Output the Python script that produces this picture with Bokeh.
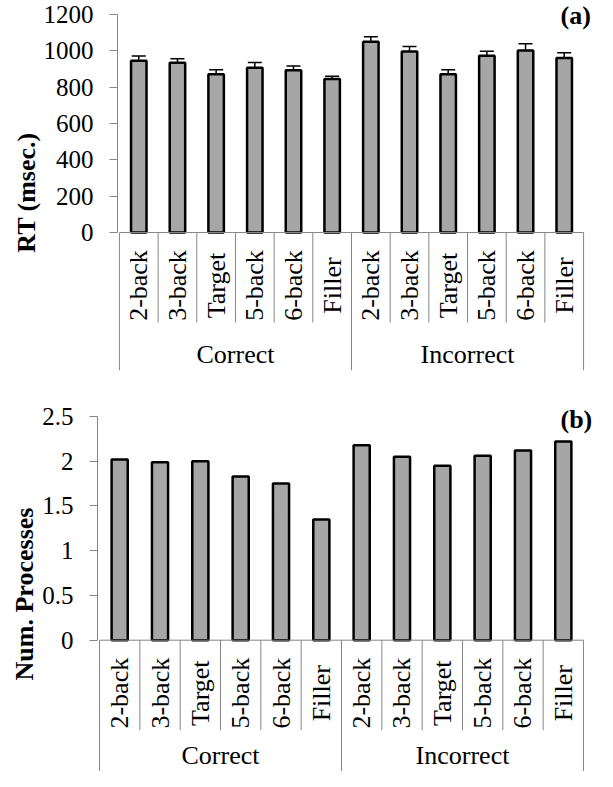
import math
from bokeh.plotting import figure
from bokeh.models import (ColumnDataSource, FactorRange, FixedTicker, Whisker,
                          TeeHead, Range1d, LinearAxis)
from bokeh.layouts import column
from bokeh.core.properties import value
from bokeh.embed import file_html
from bokeh.resources import INLINE

# ---------------- data ----------------
groups = ["Correct", "Incorrect"]
conditions = ["2-back", "3-back", "Target", "5-back", "6-back", "Filler"]
rt_mean = [946, 934, 871, 907, 893, 845, 1050, 996, 871, 973, 1002, 960]
rt_err = [25, 22, 25, 29, 23, 15, 28, 28, 25, 25, 37, 30]
num_proc = [2.02, 1.99, 2.00, 1.83, 1.75, 1.35, 2.18, 2.05, 1.95, 2.06, 2.12, 2.22]
rt_ticks = [0, 200, 400, 600, 800, 1000, 1200]
np_ticks = [0, 0.5, 1, 1.5, 2, 2.5]

# ---------------- style ----------------
FONT = "Liberation Serif"
GRAY = "#868686"
BAR = "#a6a6a6"
W = 597


def make_panel(vals, errs, ticks, ylabel, tag, height, left, top, bottom,
               zero_px, group_px, tag_dy):
    factors = [(g, c) for g in groups for c in conditions]
    right = 12
    frame_h = height - top - bottom
    ymax = ticks[-1]
    d = ymax / zero_px              # data units per pixel
    y_lo = -(frame_h - zero_px) * d

    p = figure(width=W, height=height, output_backend="svg", toolbar_location=None,
               x_range=FactorRange(*factors, factor_padding=0, group_padding=0,
                                   subgroup_padding=0, range_padding=0.05,
                                   range_padding_units="absolute"),
               y_range=Range1d(y_lo, ymax), x_axis_location=None,
               min_border=0, min_border_left=left, min_border_right=right,
               min_border_top=top, min_border_bottom=bottom, frame_align=False)
    p.outline_line_color = None
    p.xgrid.visible = False
    p.ygrid.visible = False

    ax = p.yaxis[0]
    ax.ticker = FixedTicker(ticks=ticks)
    ax.bounds = (0, ymax)
    ax.axis_line_color = GRAY
    ax.major_tick_line_color = GRAY
    ax.major_tick_out = 8
    ax.major_tick_in = 0
    ax.minor_tick_line_color = None
    ax.major_label_standoff = 16
    ax.major_label_text_font = FONT
    ax.major_label_text_font_size = "25px"
    ax.major_label_text_color = "black"
    ax.axis_label = ylabel
    ax.axis_label_text_font = FONT
    ax.axis_label_text_font_size = "26px"
    ax.axis_label_text_font_style = "bold"
    ax.axis_label_text_color = "black"
    ax.axis_label_standoff = 0

    # bars
    src = ColumnDataSource(dict(x=factors, top=vals))
    p.vbar(x="x", top="top", bottom=0, width=0.4, source=src,
           fill_color=BAR, line_color="black", line_width=2.5)

    if errs is not None:
        esrc = ColumnDataSource(dict(x=factors,
                                     upper=[v + e for v, e in zip(vals, errs)],
                                     lower=[v - e for v, e in zip(vals, errs)]))
        p.add_layout(Whisker(source=esrc, base="x", upper="upper", lower="lower",
                             dimension="height", line_color="black", line_width=1.5,
                             upper_head=TeeHead(size=14, line_color="black", line_width=1.5),
                             lower_head=TeeHead(size=14, line_color="black", line_width=1.5)))

    # category table below the axis
    g0, glast = groups[0], groups[-1]
    c0, clast = conditions[0], conditions[-1]
    p.segment(x0=[(g0, c0, -0.5)], y0=[0], x1=[(glast, clast, 0.5)], y1=[0],
              line_color=GRAY, line_width=1)
    inner = [(g, c, -0.5) for g in groups for c in conditions[1:]]
    y_sub_end = -90 * d
    p.segment(x0=inner, y0=[0] * len(inner), x1=inner, y1=[y_sub_end] * len(inner),
              line_color=GRAY, line_width=1)
    outer = [(g0, c0, -0.5)] + [(g, clast, 0.5) for g in groups]
    p.segment(x0=outer, y0=[0] * len(outer), x1=outer, y1=[y_lo] * len(outer),
              line_color=GRAY, line_width=1)

    # condition labels (rotated)
    p.text(x=factors, y=[-53 * d] * len(factors), text=[c for _, c in factors],
           angle=math.pi / 2, text_align="center", text_baseline="middle",
           text_font=value(FONT), text_font_size=value("26px"), text_color="black")
    # group labels
    mid = len(conditions) / 2
    idx = int(mid)
    off = mid - idx - 0.5
    gx = [(g, conditions[idx], off) if off != 0 else (g, conditions[idx]) for g in groups]
    p.text(x=gx, y=[-group_px * d] * len(groups), text=groups,
           text_align="center", text_baseline="middle",
           text_font=value(FONT), text_font_size=value("26px"), text_color="black")

    # panel tag, drawn as the single label of a bare right-hand axis
    p.extra_y_ranges = {"px": Range1d(0, frame_h)}
    tag_pos = frame_h - tag_dy
    tag_axis = LinearAxis(y_range_name="px", ticker=FixedTicker(ticks=[tag_pos]),
                          major_label_overrides={tag_pos: tag},
                          axis_line_color=None, major_tick_line_color=None,
                          minor_tick_line_color=None, major_tick_out=0, major_tick_in=0,
                          major_label_standoff=-25, major_label_text_font=FONT,
                          major_label_text_font_size="26px",
                          major_label_text_font_style="bold",
                          major_label_text_color="black")
    p.add_layout(tag_axis, "right")
    return p


p1 = make_panel(rt_mean, rt_err, rt_ticks, "RT (msec.)", "(a)", height=400,
                left=117, top=14, bottom=30, zero_px=218, group_px=122, tag_dy=1)
p2 = make_panel(num_proc, None, np_ticks, "Num. Processes", "(b)", height=371,
                left=97, top=16, bottom=0, zero_px=223.7, group_px=115, tag_dy=3)

layout = column(p1, p2, spacing=0)
open("out.html", "w").write(file_html(layout, INLINE))
